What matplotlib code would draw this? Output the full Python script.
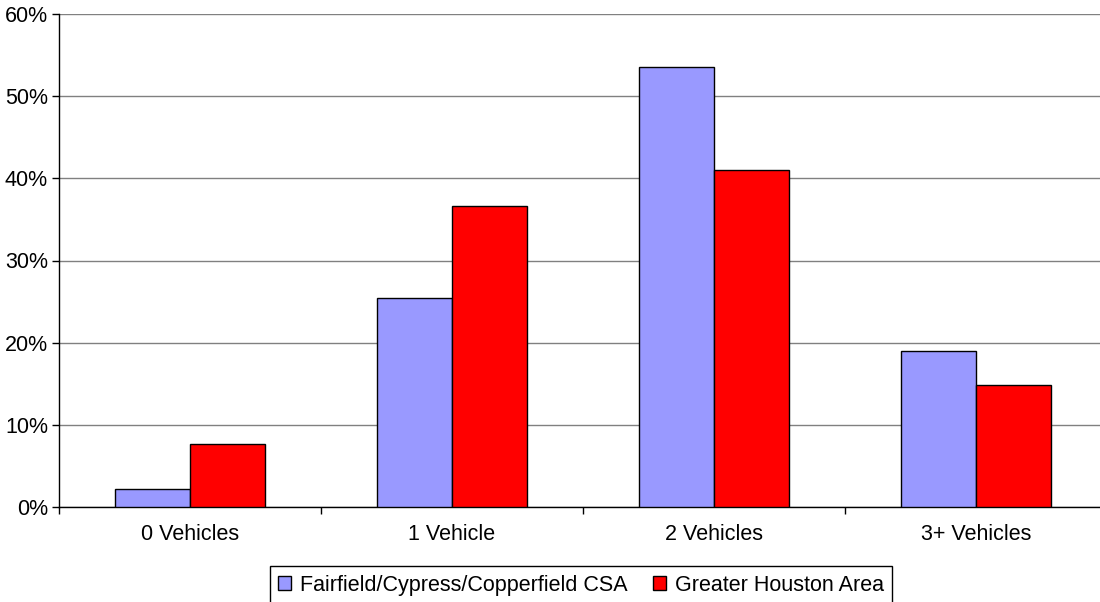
import matplotlib
matplotlib.use('Agg')
import matplotlib.pyplot as plt
import numpy as np

categories = ['0 Vehicles', '1 Vehicle', '2 Vehicles', '3+ Vehicles']
csa_share = [2.2, 25.4, 53.6, 19.0]
houston_share = [7.7, 36.6, 41.0, 14.8]
y_ticks = [0, 10, 20, 30, 40, 50, 60]

plt.rcParams['font.family'] = ['Liberation Sans', 'DejaVu Sans']
fs = 15.5

fig = plt.figure(dpi=100, figsize=(11, 6.02))
# plot area runs a little past the right edge of the image
ax = fig.add_axes([59/1100, 1-507/602, 1048/1100, (507-14)/602])

x = np.arange(len(categories))
w = 0.287
ax.bar(x - w/2, csa_share, w, color='#9999ff', edgecolor='black', lw=1,
       label='Fairfield/Cypress/Copperfield CSA', zorder=3)
ax.bar(x + w/2, houston_share, w, color='#ff0000', edgecolor='black', lw=1,
       label='Greater Houston Area', zorder=3)

ax.set_xlim(-0.5, 3.5)
ax.set_ylim(0, 60)
ax.set_yticks(y_ticks)
ax.set_yticklabels(['{}%'.format(v) for v in y_ticks], fontsize=fs)
ax.yaxis.grid(True, color='#808080', lw=1, zorder=0)

ax.set_xticks(x)
ax.set_xticklabels(categories, fontsize=fs)
ax.tick_params(axis='x', which='major', length=0, pad=12)
ax.set_xticks(np.arange(-0.5, 4, 1), minor=True)
ax.tick_params(axis='x', which='minor', length=5, width=1, direction='out')
ax.tick_params(axis='y', length=5, width=1, direction='out', pad=3)

for s in ['top', 'right']:
    ax.spines[s].set_visible(False)
ax.spines['left'].set_linewidth(1)
ax.spines['bottom'].set_linewidth(1)

leg = ax.legend(loc='upper center', bbox_to_anchor=(581/1100, 36/602), bbox_transform=fig.transFigure,
                ncol=2, fontsize=fs, fancybox=False, framealpha=1, edgecolor='black',
                handlelength=0.6, handleheight=0.6, handletextpad=0.4, columnspacing=1.2,
                borderaxespad=0, borderpad=0.4)
leg.get_frame().set_linewidth(1)

plt.savefig('out.png')
